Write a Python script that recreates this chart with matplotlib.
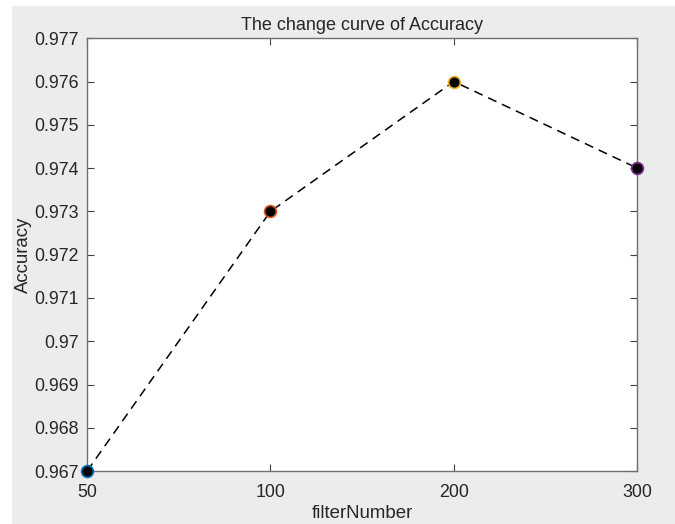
import matplotlib.pyplot as plt
import matplotlib.patches as mpatches
import numpy as np

# data
filter_numbers = ['50', '100', '200', '300']
accuracy = [0.967, 0.973, 0.976, 0.974]
edge_colors = ['#0072bd', '#d95319', '#edb120', '#7e2f8e']

y_ticks = [0.967, 0.968, 0.969, 0.970, 0.971, 0.972, 0.973, 0.974, 0.975, 0.976, 0.977]
y_tick_labels = ['0.967', '0.968', '0.969', '0.97', '0.971', '0.972',
                 '0.973', '0.974', '0.975', '0.976', '0.977']

plt.rcParams['font.family'] = ['Liberation Sans', 'DejaVu Sans']

fig = plt.figure(figsize=(6.75, 5.24), dpi=100, facecolor='white')
# grey figure area of the screenshot (small white strip left and top)
fig.patches.append(mpatches.Rectangle((12 / 675, 0), 1, 1 - 6 / 524,
                                      transform=fig.transFigure,
                                      facecolor='#ececec', edgecolor='none',
                                      zorder=-10))

ax = fig.add_axes([0.129, 0.101, 0.815, 0.826])

x = np.arange(len(filter_numbers))
ax.plot(x, accuracy, linestyle=(0, (6, 4)), color='black', linewidth=1.1, zorder=2)
for xi, yi, ec in zip(x, accuracy, edge_colors):
    ax.plot(xi, yi, marker='o', markersize=8.5, markerfacecolor='black',
            markeredgecolor=ec, markeredgewidth=1.2, linestyle='none',
            zorder=3, clip_on=False)

ax.set_xlim(0, len(filter_numbers) - 1)
ax.set_ylim(0.967, 0.977)
ax.set_xticks(x)
ax.set_xticklabels(filter_numbers)
ax.set_yticks(y_ticks)
ax.set_yticklabels(y_tick_labels)

ax.tick_params(direction='in', top=True, right=True, labelsize=12.8,
               length=5, width=0.8, color='#404040', labelcolor='#262626')
ax.tick_params(axis='x', pad=9)
ax.tick_params(axis='y', pad=6)
for sp in ax.spines.values():
    sp.set_color('#707070')
    sp.set_linewidth(1.0)

ax.set_title('The change curve of Accuracy', fontsize=13, color='#262626', pad=6)
ax.set_xlabel('filterNumber', fontsize=13.4, color='#262626', labelpad=3)
ax.set_ylabel('Accuracy', fontsize=13.4, color='#262626', labelpad=1.5)

plt.savefig('out.png', dpi=100, facecolor=fig.get_facecolor())
